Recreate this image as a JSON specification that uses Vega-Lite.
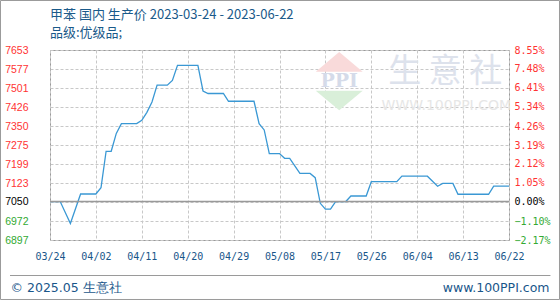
{
  "$schema": "https://vega.github.io/schema/vega-lite/v6.json",
  "width": 459,
  "height": 190,
  "autosize": {"type": "none"},
  "padding": {"left": 50, "top": 50, "right": 51, "bottom": 60},
  "background": "white",
  "config": {
    "view": {"stroke": "#9a9a9a", "strokeWidth": 1},
    "font": "Noto Sans CJK SC"
  },
  "title": {
    "text": ["甲苯 国内 生产价 2023-03-24 - 2023-06-22", "品级:优级品;"],
    "anchor": "start",
    "frame": "group",
    "fontSize": 13,
    "fontWeight": "normal",
    "font": "Noto Sans CJK SC",
    "color": "#1a5a8a",
    "lineHeight": 18,
    "offset": -40
  },
  "datasets": {
    "price": [
      {"date": "2023/03/24", "price": 7050},
      {"date": "2023/03/26", "price": 7050},
      {"date": "2023/03/28", "price": 6963},
      {"date": "2023/03/30", "price": 7080},
      {"date": "2023/04/02", "price": 7080},
      {"date": "2023/04/03", "price": 7105},
      {"date": "2023/04/04", "price": 7250},
      {"date": "2023/04/05", "price": 7250},
      {"date": "2023/04/06", "price": 7321},
      {"date": "2023/04/07", "price": 7360},
      {"date": "2023/04/10", "price": 7360},
      {"date": "2023/04/11", "price": 7373},
      {"date": "2023/04/12", "price": 7405},
      {"date": "2023/04/13", "price": 7446},
      {"date": "2023/04/14", "price": 7513},
      {"date": "2023/04/16", "price": 7513},
      {"date": "2023/04/17", "price": 7532},
      {"date": "2023/04/18", "price": 7592},
      {"date": "2023/04/22", "price": 7592},
      {"date": "2023/04/23", "price": 7490},
      {"date": "2023/04/24", "price": 7480},
      {"date": "2023/04/27", "price": 7480},
      {"date": "2023/04/28", "price": 7449},
      {"date": "2023/05/03", "price": 7449},
      {"date": "2023/05/04", "price": 7360},
      {"date": "2023/05/05", "price": 7335},
      {"date": "2023/05/06", "price": 7241},
      {"date": "2023/05/08", "price": 7241},
      {"date": "2023/05/09", "price": 7222},
      {"date": "2023/05/10", "price": 7222},
      {"date": "2023/05/12", "price": 7162},
      {"date": "2023/05/14", "price": 7162},
      {"date": "2023/05/15", "price": 7145},
      {"date": "2023/05/16", "price": 7043},
      {"date": "2023/05/17", "price": 7020},
      {"date": "2023/05/18", "price": 7020},
      {"date": "2023/05/19", "price": 7050},
      {"date": "2023/05/21", "price": 7050},
      {"date": "2023/05/22", "price": 7072},
      {"date": "2023/05/25", "price": 7072},
      {"date": "2023/05/26", "price": 7129},
      {"date": "2023/05/31", "price": 7129},
      {"date": "2023/06/01", "price": 7151},
      {"date": "2023/06/06", "price": 7151},
      {"date": "2023/06/08", "price": 7111},
      {"date": "2023/06/09", "price": 7122},
      {"date": "2023/06/11", "price": 7122},
      {"date": "2023/06/12", "price": 7079},
      {"date": "2023/06/18", "price": 7079},
      {"date": "2023/06/19", "price": 7111},
      {"date": "2023/06/22", "price": 7111}
    ]
  },
  "layer": [
    {
      "layer": [
        {
          "data": {"name": "price"},
          "mark": {"type": "line", "color": "#3a98d4", "strokeWidth": 1.3},
          "encoding": {
            "x": {
              "field": "date", "type": "temporal",
              "scale": {"domain": [{"year": 2023, "month": 3, "date": 24}, {"year": 2023, "month": 6, "date": 22}]},
              "axis": {
                "values": [
                  {"year": 2023, "month": 3, "date": 24},
                  {"year": 2023, "month": 4, "date": 2},
                  {"year": 2023, "month": 4, "date": 11},
                  {"year": 2023, "month": 4, "date": 20},
                  {"year": 2023, "month": 4, "date": 29},
                  {"year": 2023, "month": 5, "date": 8},
                  {"year": 2023, "month": 5, "date": 17},
                  {"year": 2023, "month": 5, "date": 26},
                  {"year": 2023, "month": 6, "date": 4},
                  {"year": 2023, "month": 6, "date": 13},
                  {"year": 2023, "month": 6, "date": 22}
                ],
                "tickCount": 11,
                "format": "%m/%d",
                "labelFont": "DejaVu Sans Mono",
                "labelFontSize": 10,
                "labelColor": "#19568a",
                "labelPadding": 11,
                "labelBaseline": "top",
                "labelOverlap": false,
                "labelFlush": false,
                "ticks": false,
                "domain": false,
                "grid": true,
                "gridColor": "#c8c8c8",
                "gridDash": [3, 2],
                "gridWidth": 1,
                "title": "© 2025.05 生意社",
                "titleFont": "DejaVu Sans",
                "titleFontSize": 12.5,
                "titleFontWeight": "normal",
                "titleColor": "#19568a",
                "titleX": -40,
                "titleY": 47,
                "titleAlign": "left",
                "titleBaseline": "middle",
                "titleAngle": 0
              }
            },
            "y": {
              "field": "price", "type": "quantitative",
              "scale": {"domain": [6897, 7653], "nice": false, "zero": false},
              "axis": {
                "values": [6897, 6972, 7050, 7123, 7199, 7275, 7350, 7426, 7501, 7577, 7653],
                "tickCount": 11,
                "format": "d",
                "labelFont": "Liberation Sans",
                "labelFontSize": 10.5,
                "labelPadding": 22,
                "labelColor": {"condition": [{"test": "datum.value > 7060", "value": "#ff3333"}, {"test": "datum.value < 7040", "value": "#33aa33"}], "value": "#000000"},
                "labelOverlap": false,
                "labelFlush": false,
                "ticks": false,
                "domain": false,
                "grid": true,
                "gridColor": "#c8c8c8",
                "gridDash": [3, 2],
                "gridWidth": 1,
                "title": null
              }
            }
          }
        },
        {
          "data": {"values": [{}]},
          "mark": {"type": "rect", "fill": null, "fillOpacity": 0, "stroke": "#9a9a9a", "strokeWidth": 1, "clip": false},
          "encoding": {
            "x": {"datum": {"year": 2023, "month": 3, "date": 14, "hours": 7, "minutes": 3}, "type": "temporal"},
            "x2": {"datum": {"year": 2023, "month": 7, "date": 1, "hours": 21, "minutes": 36}},
            "y": {"datum": 7850, "type": "quantitative"},
            "y2": {"datum": 6660.3}
          }
        },
        {
          "data": {"values": [{}]},
          "mark": {"type": "rule", "stroke": "#9a9a9a", "strokeWidth": 1, "clip": false},
          "encoding": {
            "x": {"datum": {"year": 2023, "month": 3, "date": 16, "hours": 3, "minutes": 46}, "type": "temporal"},
            "x2": {"datum": {"year": 2023, "month": 6, "date": 30, "hours": 3}},
            "y": {"datum": 6755.7, "type": "quantitative"}
          }
        },
        {
          "data": {"values": [{}]},
          "mark": {"type": "point", "shape": "M-1,0.42L0,-0.42L1,0.42Z", "size": 2200, "filled": true, "fill": "#f9dada", "opacity": 1, "strokeWidth": 0},
          "encoding": {
            "x": {"datum": {"year": 2023, "month": 5, "date": 19, "hours": 17}, "type": "temporal"},
            "y": {"datum": 7606, "type": "quantitative"}
          }
        },
        {
          "data": {"values": [{}]},
          "mark": {"type": "point", "shape": "M-1,-0.42L0,0.42L1,-0.42Z", "size": 2200, "filled": true, "fill": "#d9efd9", "opacity": 1, "strokeWidth": 0},
          "encoding": {
            "x": {"datum": {"year": 2023, "month": 5, "date": 19, "hours": 17}, "type": "temporal"},
            "y": {"datum": 7452, "type": "quantitative"}
          }
        },
        {
          "data": {"values": [{}]},
          "mark": {"type": "text", "text": "PPI", "font": "DejaVu Serif", "fontSize": 19, "fontWeight": "bold", "color": "#d5dbe9", "baseline": "middle", "align": "center"},
          "encoding": {
            "x": {"datum": {"year": 2023, "month": 5, "date": 19, "hours": 17}, "type": "temporal"},
            "y": {"datum": 7529, "type": "quantitative"}
          }
        },
        {
          "data": {"values": [{}]},
          "mark": {"type": "text", "text": "生 意 社", "font": "Noto Sans CJK SC", "fontSize": 33, "fontWeight": "normal", "color": "#dde2ec", "baseline": "middle", "align": "center"},
          "encoding": {
            "x": {"datum": {"year": 2023, "month": 6, "date": 9, "hours": 12}, "type": "temporal"},
            "y": {"datum": 7565, "type": "quantitative"}
          }
        },
        {
          "data": {"values": [{}]},
          "mark": {"type": "text", "text": "WWW.100PPI.COM", "font": "DejaVu Sans", "fontSize": 14, "color": "#e6e6e6", "baseline": "middle", "align": "center"},
          "encoding": {
            "x": {"datum": {"year": 2023, "month": 6, "date": 9, "hours": 17}, "type": "temporal"},
            "y": {"datum": 7430, "type": "quantitative"}
          }
        }
      ]
    },
    {
      "data": {"values": [{}]},
      "mark": {"type": "rule", "stroke": "#999999", "strokeWidth": 1.5},
      "encoding": {
        "y": {
          "datum": 0, "type": "quantitative",
          "scale": {"domain": [-2.17, 8.55], "nice": false, "zero": false},
          "axis": {
            "orient": "right",
            "values": [-2.17, -1.1, 0, 1.05, 2.12, 3.19, 4.26, 5.34, 6.41, 7.48, 8.55],
            "tickCount": 11,
            "labelExpr": "format(datum.value, '.2f') + '%'",
            "labelFont": "DejaVu Sans Mono",
            "labelFontSize": 10,
            "labelPadding": 5,
            "labelColor": {"condition": [{"test": "datum.value > 0.001", "value": "#ff3333"}, {"test": "datum.value < -0.001", "value": "#33aa33"}], "value": "#000000"},
            "labelOverlap": false,
            "labelFlush": false,
            "ticks": false,
            "domain": false,
            "grid": false,
            "title": "www.100PPI.com",
            "titleFont": "DejaVu Sans",
            "titleFontSize": 12.5,
            "titleFontWeight": "normal",
            "titleColor": "#19568a",
            "titleAngle": 0,
            "titleX": 40,
            "titleY": 237,
            "titleAlign": "right",
            "titleBaseline": "middle"
          }
        }
      }
    }
  ],
  "resolve": {"scale": {"y": "independent"}}
}
